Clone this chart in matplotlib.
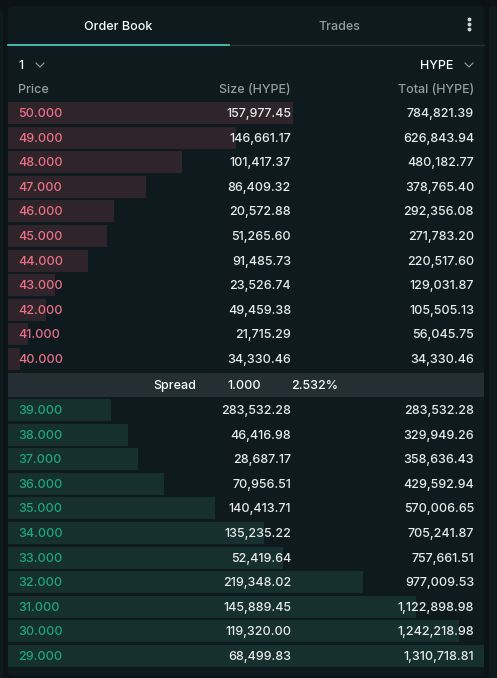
import matplotlib.pyplot as plt
from matplotlib.patches import FancyBboxPatch, Rectangle

plt.rcParams['font.family'] = ['Inter', 'DejaVu Sans']
plt.rcParams['font.weight'] = 'medium'

ask_prices = ['50.000', '49.000', '48.000', '47.000', '46.000', '45.000',
              '44.000', '43.000', '42.000', '41.000', '40.000']
ask_sizes = ['157,977.45', '146,661.17', '101,417.37', '86,409.32', '20,572.88', '51,265.60',
             '91,485.73', '23,526.74', '49,459.38', '21,715.29', '34,330.46']
ask_totals = [784821.39, 626843.94, 480182.77, 378765.40, 292356.08, 271783.20,
              220517.60, 129031.87, 105505.13, 56045.75, 34330.46]

bid_prices = ['39.000', '38.000', '37.000', '36.000', '35.000', '34.000',
              '33.000', '32.000', '31.000', '30.000', '29.000']
bid_sizes = ['283,532.28', '46,416.98', '28,687.17', '70,956.51', '140,413.71', '135,235.22',
             '52,419.64', '219,348.02', '145,889.45', '119,320.00', '68,499.83']
bid_totals = [283532.28, 329949.26, 358636.43, 429592.94, 570006.65, 705241.87,
              757661.51, 977009.53, 1122898.98, 1242218.98, 1310718.81]

spread = ['Spread', '1.000', '2.532%']

W, H = 497, 678
fig = plt.figure(figsize=(W / 100, H / 100), dpi=100, facecolor='#0b1317')
ax = fig.add_axes([0, 0, 1, 1])
ax.set_xlim(0, W)
ax.set_ylim(H, 0)
ax.axis('off')

# neighbouring panels and main panel
ax.add_patch(FancyBboxPatch((-10, 10), 13, 700, boxstyle='round,pad=0,rounding_size=4', fc='#0f1a1f', ec='none'))
ax.add_patch(FancyBboxPatch((489, 6), 20, 700, boxstyle='round,pad=0,rounding_size=4', fc='#0f1a1f', ec='none'))
ax.add_patch(FancyBboxPatch((8, 6), 476, 670, boxstyle='round,pad=0,rounding_size=5', fc='#0f1a1f', ec='none'))

fs = 9
# tabs
ax.text(118, 27, 'Order Book', color='#f6fefd', fontsize=fs, ha='center', va='center')
ax.text(339, 27, 'Trades', color='#949e9c', fontsize=fs, ha='center', va='center')
for dy in (-5, 0, 5):
    ax.plot(469, 24 + dy, 'o', color='#d0d6d6', ms=1.8)
ax.plot([229, 484], [45, 45], color='#273035', lw=1)
ax.plot([8, 229], [45, 45], color='#50d2c1', lw=1.2)

# selector row
ax.text(18, 66, '1', color='#f6fefd', fontsize=fs, va='center')
ax.plot([36, 40, 44], [63, 67, 63], color='#949e9c', lw=0.8)
ax.text(453, 66, 'HYPE', color='#f6fefd', fontsize=fs, va='center', ha='right')
ax.plot([465, 469, 473], [63, 67, 63], color='#949e9c', lw=0.8)

ax.text(18, 90, 'Price', color='#949e9c', fontsize=fs, va='center')
ax.text(291, 90, 'Size (HYPE)', color='#949e9c', fontsize=fs, va='center', ha='right')
ax.text(474, 90, 'Total (HYPE)', color='#949e9c', fontsize=fs, va='center', ha='right')

max_total = max(ask_totals + bid_totals)
x0, full_w, step, bh = 8, 476, 24.6, 22


def draw_rows(prices, sizes, totals, y_start, bar_c, txt_c):
    for i, (p, s, t) in enumerate(zip(prices, sizes, totals)):
        y = y_start + i * step
        ax.add_patch(Rectangle((x0, y - bh / 2), full_w * t / max_total, bh, fc=bar_c, ec='none'))
        ax.text(18, y + 1, p, color=txt_c, fontsize=fs, va='center')
        ax.text(291, y + 1, s, color='#e6eaea', fontsize=fs, va='center', ha='right')
        ax.text(474, y + 1, f'{t:,.2f}', color='#e6eaea', fontsize=fs, va='center', ha='right')


draw_rows(ask_prices, ask_sizes, ask_totals, 113, '#2e242a', '#ed7088')

# spread band
ax.add_patch(Rectangle((8, 373), 476, 24, fc='#252e35', ec='none'))
for x, s in zip([175, 244, 315], spread):
    ax.text(x, 386, s, color='#f6fefd', fontsize=fs, va='center', ha='center')

draw_rows(bid_prices, bid_sizes, bid_totals, 410, '#15302e', '#1fa67d')

fig.savefig('out.png', dpi=100, facecolor=fig.get_facecolor())
